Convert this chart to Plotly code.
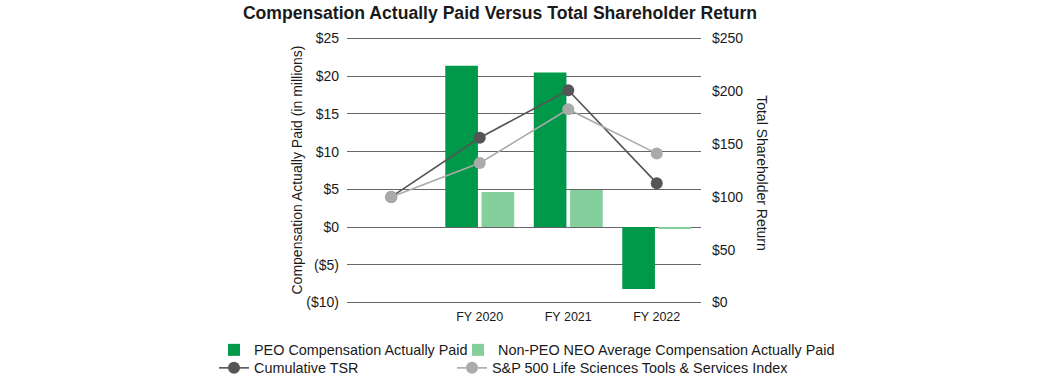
import plotly.graph_objects as go

years = ["FY 2019", "FY 2020", "FY 2021", "FY 2022"]
tick_labels = ["", "FY 2020", "FY 2021", "FY 2022"]
bar_years = ["FY 2020", "FY 2021", "FY 2022"]
peo_cap = [21.4, 20.5, -8.2]
non_peo_cap = [4.65, 4.9, -0.2]
cumulative_tsr = [100, 156, 201, 113]
sp500_lst = [100, 132, 183, 141]
left_ticks = [-10, -5, 0, 5, 10, 15, 20, 25]
left_tick_text = ["($10)", "($5)", "$0", "$5", "$10", "$15", "$20", "$25"]
right_ticks = [0, 50, 100, 150, 200, 250]
right_tick_text = ["$0", "$50", "$100", "$150", "$200", "$250"]

FONT = "Liberation Sans, Arial, sans-serif"
xi = {y: i for i, y in enumerate(years)}
bar_x = [xi[y] for y in bar_years]
line_x = [xi[y] for y in years]

fig = go.Figure()
fig.add_trace(go.Bar(x=bar_x, y=peo_cap, name="PEO Compensation Actually Paid",
                     marker=dict(color="#00994a", line=dict(width=0)), yaxis="y", legend="legend"))
fig.add_trace(go.Bar(x=bar_x, y=non_peo_cap, name="Non-PEO NEO Average Compensation Actually Paid",
                     marker=dict(color="#85cf9c", line=dict(width=0)), yaxis="y", legend="legend2"))
fig.add_trace(go.Scatter(x=line_x, y=cumulative_tsr, name="Cumulative TSR", mode="lines+markers",
                         line=dict(color="#555555", width=1.6),
                         marker=dict(color="#555555", size=12), yaxis="y2", legend="legend3"))
fig.add_trace(go.Scatter(x=line_x, y=sp500_lst, name="S&P 500 Life Sciences Tools & Services Index",
                         mode="lines+markers", line=dict(color="#aaaaaa", width=1.6),
                         marker=dict(color="#aaaaaa", size=12), yaxis="y2", legend="legend4"))

L, R, T, B = 347, 357, 37, 72
W, H = 1058, 376
pw = W - L - R
ph = H - T - B

y_lo, y_hi, pad = -10, 25, 0.2
y2_lo, y2_hi = 0, 250
pad2 = pad / (y_hi - y_lo) * (y2_hi - y2_lo)


def lx(px):
    return (px - L) / pw


def ly(py):
    return -(py - (T + ph)) / ph


legend_common = dict(orientation="v", xanchor="left", yanchor="middle",
                     font=dict(size=14.4, family=FONT), itemwidth=30,
                     bgcolor="rgba(0,0,0,0)", borderwidth=0)

fig.update_layout(
    width=W, height=H,
    margin=dict(l=L, r=R, t=T, b=B, autoexpand=False),
    paper_bgcolor="white", plot_bgcolor="white",
    font=dict(family=FONT, size=13, color="#1a1a1a"),
    barmode="group", bargap=0.18, bargroupgap=0.1,
    showlegend=True,
    legend=dict(x=lx(214), y=ly(350), **legend_common),
    legend2=dict(x=lx(458), y=ly(350), **legend_common),
    legend3=dict(x=lx(214), y=ly(368), **legend_common),
    legend4=dict(x=lx(452), y=ly(368), **legend_common),
    xaxis=dict(range=[-0.5, 3.5], tickmode="array", tickvals=line_x, ticktext=tick_labels,
               showgrid=False, zeroline=False, showline=False, ticks="",
               tickfont=dict(size=12.5), ticklabelstandoff=3, fixedrange=True),
    yaxis=dict(range=[y_lo - pad, y_hi + pad], tickmode="array", tickvals=left_ticks,
               ticktext=left_tick_text,
               showgrid=True, gridcolor="#666666", gridwidth=1, zeroline=True,
               zerolinecolor="#666666", zerolinewidth=1, showline=False, ticks="",
               tickfont=dict(size=14), ticklabelstandoff=7),
    yaxis2=dict(range=[y2_lo - pad2, y2_hi + pad2], overlaying="y", side="right",
                tickmode="array", tickvals=right_ticks, ticktext=right_tick_text,
                showgrid=False, zeroline=False, showline=False, ticks="",
                tickfont=dict(size=14), ticklabelstandoff=10),
    title=dict(text="<b>Compensation Actually Paid Versus Total Shareholder Return</b>",
               x=500 / W, xanchor="center", y=1 - 13 / H, yanchor="middle",
               font=dict(size=17.6, family=FONT, color="#1a1a1a")),
    annotations=[
        dict(text="Compensation Actually Paid (in millions)", xref="paper", yref="paper",
             x=lx(296), y=0.5, xanchor="center", yanchor="middle", textangle=-90,
             showarrow=False, font=dict(size=14, family=FONT)),
        dict(text="Total Shareholder Return", xref="paper", yref="paper",
             x=lx(762), y=0.49, xanchor="center", yanchor="middle", textangle=90,
             showarrow=False, font=dict(size=14, family=FONT)),
    ],
)

fig.write_html("out.html", config={"displayModeBar": False},
               post_script="document.body.style.margin='0';")
